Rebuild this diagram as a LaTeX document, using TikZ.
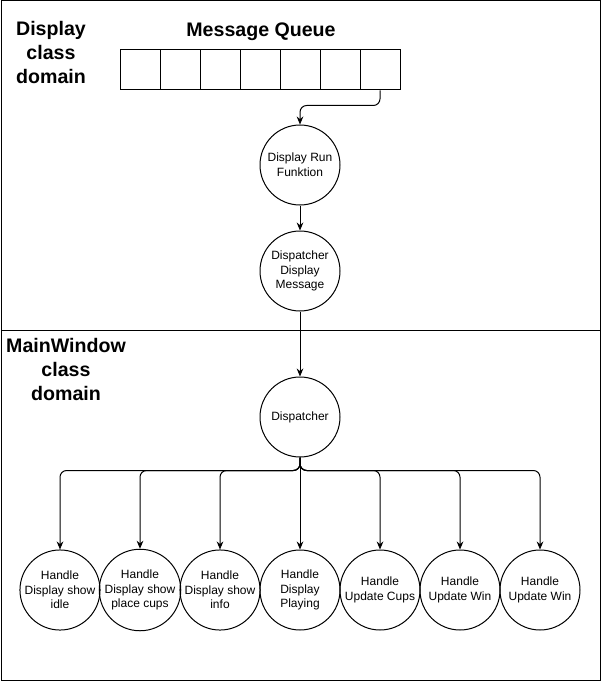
\documentclass[tikz,border=0pt]{standalone}
\usepackage{fontspec}
\setmainfont{Liberation Sans}
\usetikzlibrary{arrows.meta}

\tikzset{
  circ/.style={draw, circle, minimum size=60pt, inner sep=0pt, align=center,
    font=\fontsize{9}{11}\selectfont},
  cell/.style={draw, minimum width=30pt, minimum height=30pt, inner sep=0pt},
  domtitle/.style={font=\fontsize{14.7}{18}\selectfont\bfseries, align=center},
  flow/.style={-{Stealth[length=6pt,width=5pt]}, rounded corners=5pt}
}

\begin{document}
\begin{tikzpicture}[x=0.75pt, y=-0.75pt, line width=0.75pt]
            \useasboundingbox (0,0) rectangle (601,681);

            % frame and the two class domains
            \draw (1,1) rectangle (600,680);
            \draw (1,330) -- (600,330);

            \node[domtitle] (dtitle) at (51,52) {Display\\class\\domain};
            \node[domtitle] (mtitle) at (66,369) {MainWindow\\class\\domain};

            % message queue
            \node[domtitle] (qtitle) at (261,32) {Message Queue};
            \foreach \i in {1,...,7}
                \node[cell] (q\i) at ({100+40*\i},70) {};

            \node[circ] (run) at (300,165) {Display Run\\Funktion};
            \node[circ] (dmsg) at (300,271) {Dispatcher\\Display\\Message};
            \node[circ] (disp) at (300,417) {Dispatcher};

            \draw[flow] (q7.south) -- ++(0,15) -| (run.north);
            \draw[flow] (run) -- (dmsg);
            \draw[flow] (dmsg) -- (disp);

            % handlers
            \node[circ] (h1) at (60,590) {Handle\\Display show\\idle};
            \node[circ] (h2) at (140,590) {Handle\\Display show\\place cups};
            \node[circ] (h3) at (220,590) {Handle\\Display show\\info};
            \node[circ] (h4) at (300,590) {Handle\\Display\\Playing};
            \node[circ] (h5) at (380,590) {Handle\\Update Cups};
            \node[circ] (h6) at (460,590) {Handle\\Update Win};
            \node[circ] (h7) at (540,590) {Handle\\Update Win};

            \foreach \n in {h1,h2,h3,h5,h6,h7}
                \draw[flow] (disp.south) -- ++(0,13) -| (\n.north);
            \draw[flow] (disp) -- (h4);
\end{tikzpicture}
\end{document}
